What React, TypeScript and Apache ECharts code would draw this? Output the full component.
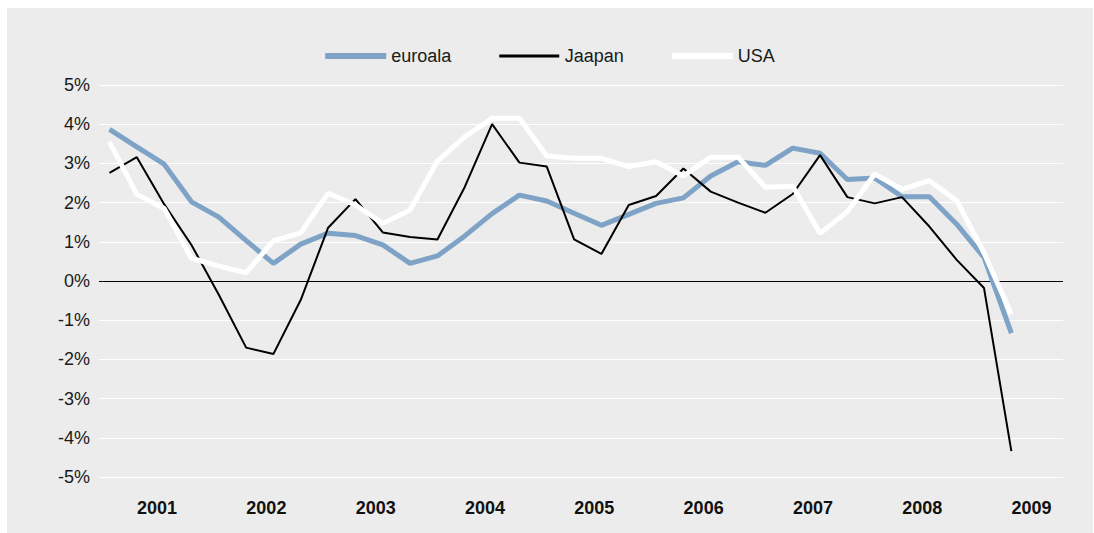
import React, { useEffect, useRef } from "react";
import * as echarts from "echarts";

const years = ["2001", "2002", "2003", "2004", "2005", "2006", "2007", "2008", "2009"];

const euroala = [
  3.87, 3.42, 2.98, 2.02, 1.63, 1.03, 0.45, 0.94, 1.22, 1.16, 0.92, 0.45,
  0.64, 1.15, 1.72, 2.19, 2.04, 1.73, 1.42, 1.7, 1.98, 2.12, 2.68, 3.04,
  2.95, 3.39, 3.26, 2.59, 2.63, 2.15, 2.15, 1.45, 0.6, -1.33,
];

const jaapan = [
  2.76, 3.16, 1.96, 0.92, -0.35, -1.7, -1.86, -0.48, 1.36, 2.09, 1.24, 1.12,
  1.06, 2.4, 4.0, 3.02, 2.92, 1.06, 0.69, 1.94, 2.17, 2.87, 2.28, 2.0,
  1.74, 2.22, 3.21, 2.14, 1.98, 2.14, 1.39, 0.54, -0.18, -4.34,
];

const usa = [
  3.55, 2.21, 1.85, 0.58, 0.38, 0.21, 1.03, 1.23, 2.24, 1.94, 1.47, 1.81,
  3.06, 3.68, 4.15, 4.15, 3.19, 3.13, 3.13, 2.92, 3.04, 2.68, 3.16, 3.16,
  2.39, 2.42, 1.22, 1.77, 2.73, 2.34, 2.56, 2.05, 0.72, -0.85,
];

const FONT = "'Liberation Sans', Arial, Helvetica, sans-serif";

export default function App() {
  const ref = useRef<HTMLDivElement>(null);

  useEffect(() => {
    if (!ref.current) return;
    const chart = echarts.init(ref.current, undefined, { renderer: "svg" });
    const yearPos = years.map((_, k) => 1.74 + 4 * k);
    const toPairs = (arr: number[]) => arr.map((v, i) => [i, v]);

    chart.setOption({
      animation: false,
      backgroundColor: "#ebeceb",
      textStyle: { fontFamily: FONT },
      legend: {
        left: "center",
        top: 34,
        itemWidth: 61,
        itemHeight: 6,
        itemGap: 48,
        icon: "rect",
        textStyle: { fontSize: 18, color: "#1a1a1a", fontFamily: FONT },
        data: [
          { name: "euroala", icon: "rect", itemStyle: { color: "#7ea3c6" } },
          {
            name: "Jaapan",
            icon: "path://M0,0M0,1.6H60V4.4H0ZM60,6",
            itemStyle: { color: "#000000" },
          },
          { name: "USA", icon: "rect", itemStyle: { color: "#ffffff" } },
        ],
      },
      grid: { left: 92, right: 30, top: 77, bottom: 56, containLabel: false },
      xAxis: [
        {
          type: "value",
          min: -0.384,
          max: 34.89,
          axisLine: { show: false },
          axisTick: { show: false },
          splitLine: { show: false },
          axisLabel: {
            customValues: yearPos,
            margin: 22,
            fontSize: 18,
            fontWeight: "bold",
            color: "#111",
            fontFamily: FONT,
            formatter: (v: number) => {
              const k = Math.round((v - 1.74) / 4);
              return years[k] ?? "";
            },
          },
        },
      ],
      yAxis: {
        type: "value",
        min: -5,
        max: 5,
        interval: 1,
        axisLine: { show: false },
        axisTick: { show: false },
        splitLine: { lineStyle: { color: "#ffffff", width: 1 } },
        axisLabel: {
          formatter: "{value}%",
          fontSize: 18,
          color: "#1a1a1a",
          margin: 9,
          fontFamily: FONT,
        },
      },
      series: [
        {
          name: "euroala",
          type: "line",
          symbol: "none",
          data: toPairs(euroala),
          lineStyle: { color: "#7ea3c6", width: 5 },
          itemStyle: { color: "#7ea3c6" },
          z: 2,
          markLine: {
            silent: true,
            symbol: "none",
            label: { show: false },
            lineStyle: { color: "#000", width: 1, type: "solid" },
            data: [{ yAxis: 0 }],
            z: 1,
          },
        },
        {
          name: "Jaapan",
          type: "line",
          symbol: "none",
          data: toPairs(jaapan),
          lineStyle: { color: "#000000", width: 2 },
          itemStyle: { color: "#000000" },
          z: 3,
        },
        {
          name: "USA",
          type: "line",
          symbol: "none",
          data: toPairs(usa),
          lineStyle: { color: "#ffffff", width: 5 },
          itemStyle: { color: "#ffffff" },
          z: 4,
        },
      ],
    });

    return () => chart.dispose();
  }, []);

  return (
    <div
      ref={ref}
      style={{ position: "absolute", left: 7, top: 8, width: 1086, height: 525 }}
    />
  );
}
